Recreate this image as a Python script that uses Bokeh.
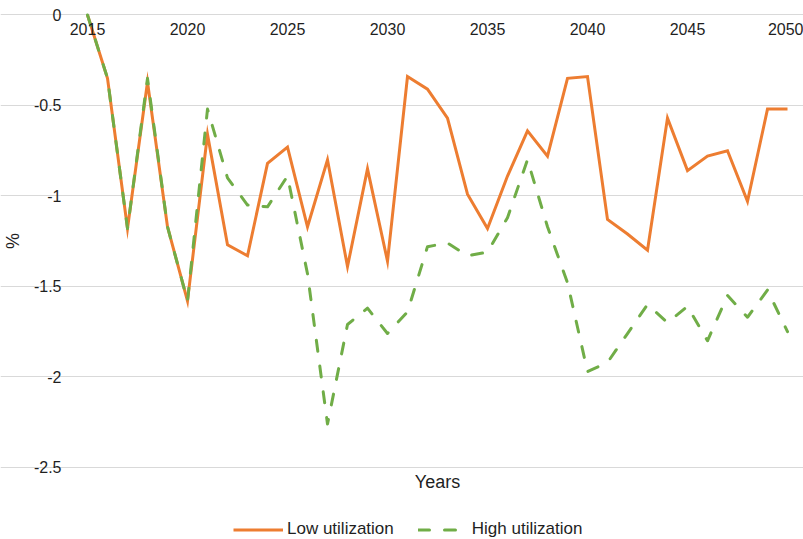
from bokeh.plotting import figure
from bokeh.models import Range1d, FixedTicker, LinearAxis, Legend, LegendItem
from bokeh.embed import file_html
from bokeh.resources import INLINE

# Annual change (%) under two utilization scenarios
years = list(range(2015, 2051))
low_utilization = [
    0.00, -0.35, -1.18, -0.37, -1.17, -1.58, -0.66, -1.27, -1.33, -0.82,
    -0.73, -1.17, -0.80, -1.39, -0.85, -1.36, -0.34, -0.41, -0.57, -0.99,
    -1.18, -0.89, -0.64, -0.78, -0.35, -0.34, -1.13, -1.21, -1.30, -0.57,
    -0.86, -0.78, -0.75, -1.03, -0.52, -0.52,
]
high_utilization = [
    0.00, -0.35, -1.18, -0.35, -1.17, -1.58, -0.52, -0.90, -1.05, -1.06,
    -0.89, -1.43, -2.26, -1.71, -1.62, -1.76, -1.64, -1.28, -1.26, -1.33,
    -1.31, -1.12, -0.80, -1.17, -1.48, -1.97, -1.92, -1.76, -1.60, -1.70,
    -1.61, -1.80, -1.55, -1.67, -1.52, -1.75,
]

x_ticks = [2015, 2020, 2025, 2030, 2035, 2040, 2045, 2050]
x_tick_labels = ["2015", "2020", "2025", "2030", "2035", "2040", "2045", "2050"]
y_ticks = [0, -0.5, -1, -1.5, -2, -2.5]
y_tick_labels = ["0", "-0.5", "-1", "-1.5", "-2", "-2.5"]

# category band edges of the year axis and the value span of the plot area
x_bounds = (2014.5, 2050.5)
y_bounds = (-2.5, 0)

FONT = "Liberation Sans"
TEXT = "#1f1f1f"

# the frame fills the whole canvas; axes are pinned inside it
p = figure(
    width=803, height=539,
    x_range=Range1d(2010.65, 2050.8), y_range=Range1d(-2.898, 0.080),
    output_backend="svg", toolbar_location=None,
    min_border_left=0, min_border_right=0,
    min_border_top=0, min_border_bottom=0,
    outline_line_color=None,
)

# horizontal gridlines only, across the plot area
p.xgrid.visible = False
p.ygrid.grid_line_color = "#D9D9D9"
p.ygrid.grid_line_width = 1
p.ygrid.bounds = x_bounds

# year labels sit along the zero line
xa = p.xaxis[0]
xa.fixed_location = 0
xa.ticker = FixedTicker(ticks=x_ticks)
xa.major_label_overrides = {t: s for t, s in zip(x_ticks, x_tick_labels)}
xa.axis_line_color = None
xa.major_tick_line_color = None
xa.minor_tick_line_color = None
xa.major_tick_out = 0
xa.major_tick_in = 0
xa.major_label_standoff = 8
xa.major_label_text_font = FONT
xa.major_label_text_font_size = "16px"
xa.major_label_text_color = TEXT

# axis carrying only the title under the plot area
title_axis = LinearAxis(ticker=FixedTicker(ticks=[]), axis_label="Years")
title_axis.fixed_location = y_bounds[0]
title_axis.bounds = x_bounds
title_axis.axis_line_color = None
title_axis.major_tick_line_color = None
title_axis.minor_tick_line_color = None
title_axis.major_tick_out = 0
title_axis.major_label_standoff = 0
title_axis.axis_label_standoff = 4
title_axis.axis_label_text_font = FONT
title_axis.axis_label_text_font_size = "18px"
title_axis.axis_label_text_font_style = "normal"
title_axis.axis_label_text_color = TEXT
p.add_layout(title_axis, "below")

ya = p.yaxis[0]
ya.fixed_location = x_bounds[0]
ya.bounds = y_bounds
ya.ticker = FixedTicker(ticks=y_ticks)
ya.major_label_overrides = {t: s for t, s in zip(y_ticks, y_tick_labels)}
ya.axis_line_color = None
ya.major_tick_line_color = None
ya.minor_tick_line_color = None
ya.major_tick_out = 0
ya.major_tick_in = 0
ya.major_label_standoff = 16
ya.major_label_text_font = FONT
ya.major_label_text_font_size = "16px"
ya.major_label_text_color = TEXT
ya.axis_label = "%"
ya.axis_label_standoff = 8
ya.axis_label_text_font = FONT
ya.axis_label_text_font_size = "18px"
ya.axis_label_text_font_style = "normal"
ya.axis_label_text_color = TEXT

r_low = p.line(years, low_utilization, line_color="#ED7D31", line_width=3,
               line_join="miter")
r_high = p.line(years, high_utilization, line_color="#70AD47", line_width=3,
                line_dash="11 15", line_cap="round", line_join="round")

legend = Legend(
    items=[
        LegendItem(label="Low utilization", renderers=[r_low]),
        LegendItem(label="High utilization", renderers=[r_high]),
    ],
    orientation="horizontal",
    location=(233, 0),
    glyph_width=50, glyph_height=17,
    label_standoff=4, spacing=24,
    padding=0, margin=0,
    border_line_color=None, background_fill_alpha=0,
    label_text_font=FONT, label_text_font_size="17px",
    label_text_color=TEXT,
)
p.add_layout(legend, "center")

open("out.html", "w").write(file_html(p, INLINE))
